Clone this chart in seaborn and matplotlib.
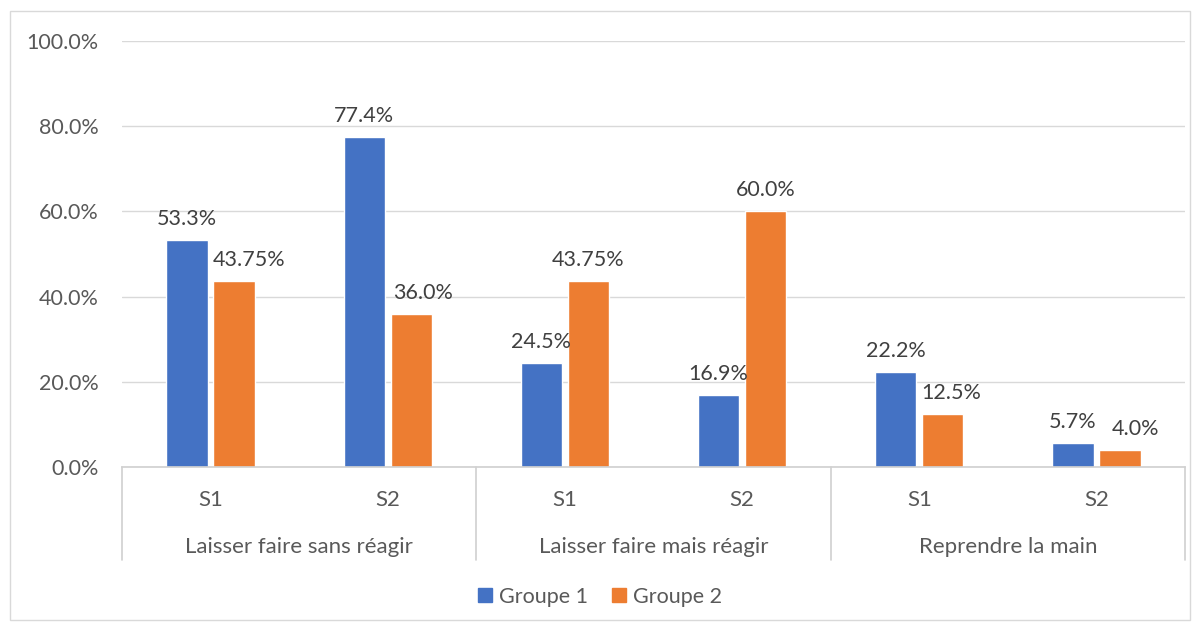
import pandas as pd
import seaborn as sns
import matplotlib.pyplot as plt
from matplotlib.ticker import PercentFormatter
from matplotlib.patches import Rectangle
from matplotlib.transforms import blended_transform_factory

# Data
categories = ["Laisser faire sans réagir", "Laisser faire mais réagir", "Reprendre la main"]
sessions = ["S1", "S2"]
groupe1 = [53.3, 77.4, 24.5, 16.9, 22.2, 5.7]
groupe2 = [43.75, 36.0, 43.75, 60.0, 12.5, 4.0]
series_names = ["Groupe 1", "Groupe 2"]
colors = ["#4472C4", "#ED7D31"]

rows = []
for name, vals in zip(series_names, [groupe1, groupe2]):
    for i, v in enumerate(vals):
        rows.append({"slot": i, "groupe": name, "valeur": v / 100})
df = pd.DataFrame(rows)


def fmt(v):
    s = f"{v:.2f}"
    if s.endswith("0"):
        s = f"{v:.1f}"
    return s + "%"


sns.set_style("white")
plt.rcParams["font.family"] = ["Lato", "DejaVu Sans"]

fig = plt.figure(figsize=(12, 6.27), dpi=100)
ax = fig.add_axes([0.1017, 0.2552, 0.8858, 0.6794])

sns.barplot(data=df, x="slot", y="valeur", hue="groupe", palette=colors,
            width=0.53, gap=0.12, ax=ax, legend=False, saturation=1)

ax.set_ylim(0, 1.0)
ax.set_xlim(-0.5, 5.5)
ax.set_yticks([0, 0.2, 0.4, 0.6, 0.8, 1.0])
ax.yaxis.set_major_formatter(PercentFormatter(1.0, decimals=1))
ax.tick_params(axis="y", length=0, pad=17, labelsize=15.5, labelcolor="#595959")
ax.set_xticks([])
ax.set_xlabel("")
ax.set_ylabel("")
ax.grid(axis="y", color="#d9d9d9", linewidth=1)
ax.set_axisbelow(True)
for s in ["top", "right", "left"]:
    ax.spines[s].set_visible(False)
ax.spines["bottom"].set_color("#d0d0d0")
ax.spines["bottom"].set_linewidth(1.2)

# data labels (orange labels nudged right like in the original)
nudge_px = [[0, 0, 0, 0, 0, 0], [15, 12, 0, 0, 9, 16]]
for cont, vals, nudge in zip(ax.containers, [groupe1, groupe2], nudge_px):
    anns = ax.bar_label(cont, labels=[fmt(v) for v in vals], padding=8,
                        fontsize=15.5, color="#404040")
    for a, dx in zip(anns, nudge):
        a.xyann = (dx * 0.72, 8)

# multi-level category axis
tr = blended_transform_factory(ax.transData, ax.transAxes)
for x in [-0.5, 1.5, 3.5, 5.5]:
    ax.plot([x, x], [0, -0.218], transform=tr, color="#d0d0d0",
            linewidth=1.2, clip_on=False)
for ci, cat in enumerate(categories):
    for si, s in enumerate(sessions):
        ax.text(ci * 2 + si, -0.077, s, transform=tr, ha="center", va="center",
                fontsize=16, color="#595959")
    ax.text(ci * 2 + 0.5, -0.188, cat, transform=tr, ha="center", va="center",
            fontsize=16, color="#595959")

# legend
handles = [plt.Line2D([], [], marker="s", linestyle="", markersize=9.5,
                      color=c) for c in colors]
fig.legend(handles, series_names, loc="center", bbox_to_anchor=(0.5, 0.048),
           ncol=2, frameon=False, fontsize=15.5, labelcolor="#595959",
           handlelength=0.7, handletextpad=0.3, columnspacing=1.1)

# chart border
fig.patches.append(Rectangle((10 / 1200, 7 / 627), 1180 / 1200, 609 / 627,
                             transform=fig.transFigure, fill=False,
                             edgecolor="#d9d9d9", linewidth=1))

fig.savefig("out.png", dpi=100)
